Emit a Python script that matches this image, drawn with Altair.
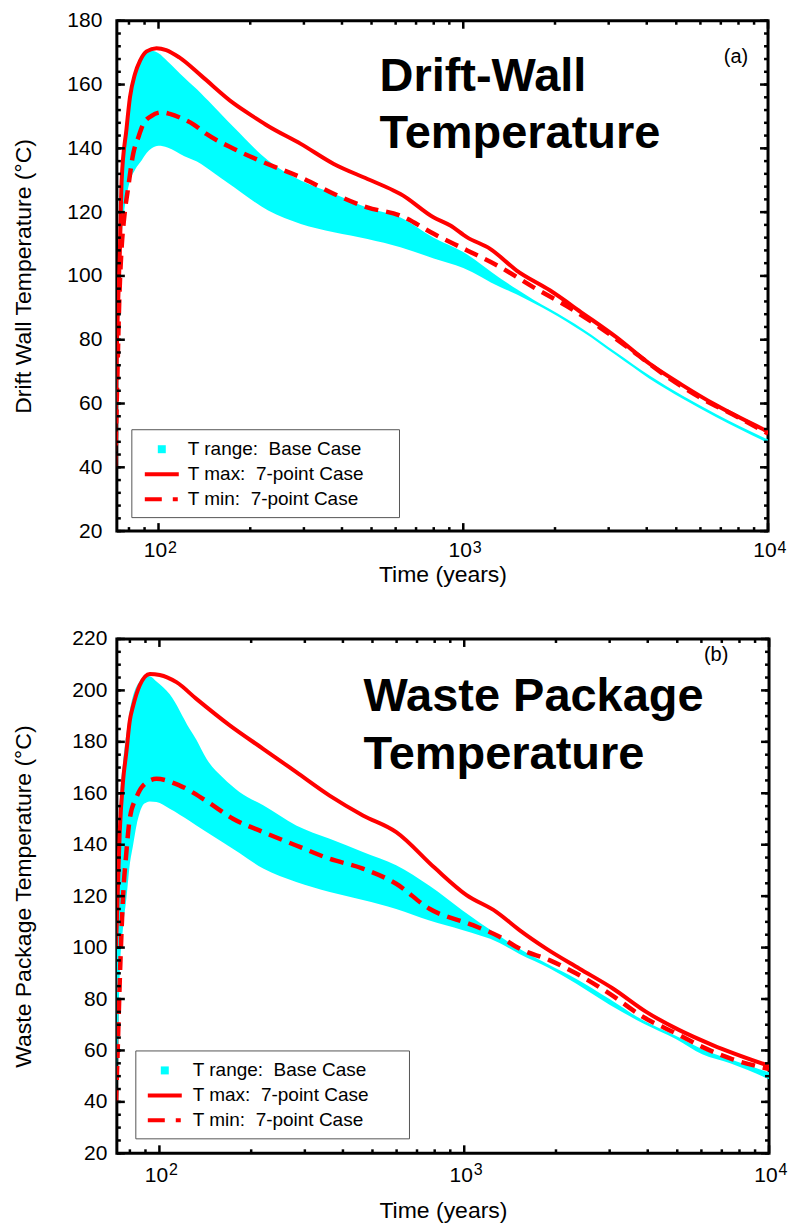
import altair as alt
import pandas as pd

FONT = "Liberation Sans"
CYAN = "#00ffff"
RED = "#ff0000"

# ---------------- Panel (a): Drift-Wall temperature ----------------
A_BAND_T = [72, 73, 74.5, 75.7, 77.1, 79.6, 84, 88, 91.4, 95, 100, 107, 121.6, 138, 145.7,
            177, 229, 293, 376, 485, 622, 800, 1000, 1321, 1500, 1700, 1923, 2472, 3177,
            4083, 5248, 6745, 10000]
A_BAND_HI = [45, 76, 104, 129, 139, 152, 163.5, 168, 170, 170.6, 169.8, 167.3, 162.1, 157.2, 154.9,
             146.5, 136.2, 129.9, 125.8, 121.4, 118.3, 112, 107.5, 99.3, 95.8, 92.5, 89.6, 83.3, 76.0,
             68.8, 62.4, 56.7, 48.7]
A_BAND_LO = [40, 60, 95, 112, 120, 127.8, 133.5, 136.2, 138.5, 140, 140.8, 140.3, 137.5, 135.1, 133.5,
             127.8, 120.5, 116.3, 113.7, 111.6, 109.0, 105.5, 102.5, 96.5, 94.2, 91.5, 88.8, 82.4, 75.1,
             67.8, 61.5, 55.8, 47.6]

A_MAX_T = [72, 73, 74.7, 75.7, 78.5, 80.6, 83.7, 87, 91.4, 98.5, 106, 117, 138, 177, 209, 228, 293,
           376, 485, 590, 622, 798, 907, 1030, 1225, 1497, 1923, 2472, 3177, 4083, 5248, 6745, 10000]
A_MAX_V = [45, 77, 108, 130, 146, 156, 163.3, 167.5, 170.4, 171.4, 170.8, 168.5, 162.8, 154.0, 149.4,
           147.1, 141.4, 135.1, 130.4, 126.8, 125.7, 118.4, 115.8, 112.1, 108.5, 101.7, 95.5, 88.2,
           80.8, 72.5, 65.7, 59.5, 51.2]

A_MIN_T = [72, 73, 74.5, 75.7, 77.1, 79.6, 82.6, 85.9, 89.1, 94.9, 102.3, 108.9, 120.4, 129.8, 143.6,
           177, 228, 293, 377, 484, 622, 800, 1030, 1321, 1696, 2178, 2803, 3600, 4627, 5947, 7643, 10000]
A_MIN_V = [40, 62, 95, 109, 118, 128, 138.3, 143.5, 147.6, 150.2, 151.3, 150.8, 149.2, 147.6, 144.5,
           139.8, 135.1, 130.9, 125.7, 121.5, 118.9, 113.2, 108.0, 102.8, 96.5, 90.6, 83.9, 76.4, 68.6,
           62.0, 56.6, 50.6]

# ---------------- Panel (b): Waste Package temperature ----------------
B_BAND_T = [72, 72.5, 74.1, 76, 77.9, 79.9, 82, 84.1, 86.2, 88.4, 90.6, 93, 97.8, 108.1, 125.7, 132.2,
            142.7, 161.7, 183, 219, 281, 362, 465, 598, 769, 985, 1306, 1518, 1903, 2333, 2997, 3853,
            4960, 6036, 7455, 10000]
B_BAND_HI = [100, 115, 155, 172, 183, 192, 198, 201.5, 203.5, 204.8, 205.7, 205.5, 203.5, 198.5, 185,
             180.8, 173.4, 166, 160.5, 155.3, 147.5, 142.3, 137.2, 132.0, 124, 114.5, 104.5, 99.5, 93.2,
             87.8, 80.0, 71.8, 65.6, 60.5, 56.6, 51.5]
B_BAND_LO = [40, 50, 90, 108, 119, 132, 140, 147.5, 152.5, 155.5, 156.4, 156.8, 156.6, 154.0, 149.2,
             147.5, 144.9, 140.9, 136.8, 130.7, 125.5, 121.6, 118.5, 115.0, 110.5, 106.8, 101.8, 97.5,
             92.0, 85.9, 77.8, 70.6, 64.4, 58.5, 55.0, 48.8]

B_MAX_T = [72, 72.5, 74.1, 76, 77.9, 79.9, 82, 86.2, 93, 100.2, 113.7, 132.2, 170.1, 218.8, 281.3,
           361.6, 465.2, 598.4, 800, 1015, 1274, 1518, 1858, 2389, 3073, 3954, 5079, 6530, 10000]
B_MAX_V = [100, 110, 145, 165, 176, 188, 194, 202, 206.4, 206.0, 203.2, 196.7, 186.4, 177.3, 168.2,
           159.1, 151.4, 144.9, 131.0, 120.5, 113.9, 106.8, 99.6, 91.8, 84.1, 75.0, 67.9, 62.1, 54.0]

B_MIN_T = [72, 72.5, 74.5, 76, 77.9, 79.9, 84.1, 88.4, 97.8, 116.6, 142.7, 174.3, 219, 281, 362, 465,
           598, 769, 1068, 1306, 1518, 1903, 2333, 2997, 3853, 4960, 6036, 7455, 10000]
B_MIN_V = [40, 50, 95, 120, 137, 150, 158.5, 163, 165.6, 163, 157, 150.1, 144.9, 139.7, 134.5, 130.7,
           124.8, 115.1, 108.7, 104.2, 99.6, 95.1, 89.9, 82.1, 73.1, 66.6, 61.4, 56.9, 52.8]

# ---------------- Shared text / ticks ----------------
LEGEND_LABELS = ["T range:\u00a0 Base Case", "T max:\u00a0 7-point Case", "T min:\u00a0 7-point Case"]
LEGEND_COLORS = [CYAN, RED, RED]
LEGEND_SHAPES = [
    "M-0.333,-0.333H0.333V0.333H-0.333Z",
    "M-1.417,-0.167H1.417V0.167H-1.417Z",
    "M-1.417,-0.167H0V0.167H-1.417Z M0.917,-0.167H1.333V0.167H0.917Z",
]
X_MAJOR = [100, 1000, 10000]
X_BASE_TEXT = "10"
X_EXPONENTS = ["2", "3", "4"]
X_MINOR = [80, 90, 200, 300, 400, 500, 600, 700, 800, 900,
           2000, 3000, 4000, 5000, 6000, 7000, 8000, 9000]
A_Y_MAJOR = list(range(20, 181, 20))
A_Y_MINOR = list(range(20, 181, 4))
B_Y_MAJOR = list(range(20, 221, 20))
B_Y_MINOR = list(range(20, 221, 5))


def panel(W, H, x0, ydom, band, mx, mn, ymaj, ymin, ytitle, ylab_pad, ytitle_pad,
          xlab_pad, xtitle_pad, exp_y, title_lines, title_x, title_y, title_lh, tag, tag_x, tag_y,
          leg_x, leg_y, sym_off, lab_off, nbsp):
    xs = alt.Scale(type="log", domain=[x0, 10000], nice=False)
    ys = alt.Scale(domain=ydom, nice=False, zero=False)

    xaxis = alt.Axis(values=X_MAJOR, labelExpr=f"'{X_BASE_TEXT}'", title="Time (years)",
                     labelFontSize=21, titleFontSize=23, labelPadding=xlab_pad, labelOffset=-3.5,
                     titlePadding=xtitle_pad, labelFlush=False, labelOverlap=False)
    yaxis = alt.Axis(values=ymaj, title=ytitle, labelFontSize=21, titleFontSize=23,
                     labelPadding=ylab_pad, titlePadding=ytitle_pad)

    bdf = pd.DataFrame({"t": band[0], "lo": band[1], "hi": band[2]})
    area = alt.Chart(bdf).mark_area(color=CYAN, clip=True, interpolate="monotone").encode(
        x=alt.X("t:Q", scale=xs, axis=xaxis),
        y=alt.Y("lo:Q", scale=ys, axis=yaxis),
        y2="hi:Q",
    )
    mxdf = pd.DataFrame({"t": mx[0], "v": mx[1]})
    mndf = pd.DataFrame({"t": mn[0], "v": mn[1]})
    lmax = alt.Chart(mxdf).mark_line(color=RED, strokeWidth=4, clip=True,
                                     interpolate="monotone").encode(
        x=alt.X("t:Q", scale=xs), y=alt.Y("v:Q", scale=ys))
    lmin = alt.Chart(mndf).mark_line(color=RED, strokeWidth=4.5, strokeDash=[14, 8], clip=True,
                                     interpolate="monotone").encode(
        x=alt.X("t:Q", scale=xs), y=alt.Y("v:Q", scale=ys))

    # exponents of the decade labels (10^2, 10^3, 10^4)
    edf = pd.DataFrame({"t": X_MAJOR, "e": X_EXPONENTS})
    expo = alt.Chart(edf).mark_text(font=FONT, fontSize=16, align="center", baseline="middle",
                                    dx=14, color="black").encode(
        x=alt.X("t:Q", scale=xs), y=alt.value(exp_y), text="e:N")

    # inward ticks on all four sides
    xmaj = pd.DataFrame({"t": X_MAJOR})
    xmin = pd.DataFrame({"t": X_MINOR})
    ymj = pd.DataFrame({"v": ymaj})
    ymn = pd.DataFrame({"v": ymin})
    tick_layers = []
    for df, ln in ((xmaj, 8), (xmin, 4)):
        tick_layers.append(alt.Chart(df).mark_rule(color="black", strokeWidth=2.5).encode(
            x=alt.X("t:Q", scale=xs), y=alt.value(H), y2=alt.value(H - ln)))
        tick_layers.append(alt.Chart(df).mark_rule(color="black", strokeWidth=2.5).encode(
            x=alt.X("t:Q", scale=xs), y=alt.value(0), y2=alt.value(ln)))
    for df, ln in ((ymj, 8), (ymn, 4)):
        tick_layers.append(alt.Chart(df).mark_rule(color="black", strokeWidth=2.5).encode(
            y=alt.Y("v:Q", scale=ys), x=alt.value(0), x2=alt.value(ln)))
        tick_layers.append(alt.Chart(df).mark_rule(color="black", strokeWidth=2.5).encode(
            y=alt.Y("v:Q", scale=ys), x=alt.value(W), x2=alt.value(W - ln)))

    tdf = pd.DataFrame({"txt": ["\n".join(title_lines)]})
    title = alt.Chart(tdf).mark_text(font=FONT, fontSize=47, fontWeight="bold", align="left",
                                     baseline="alphabetic", lineBreak="\n", lineHeight=title_lh,
                                     color="black").encode(
        text="txt:N", x=alt.value(title_x), y=alt.value(title_y))
    tagdf = pd.DataFrame({"txt": [tag]})
    tagm = alt.Chart(tagdf).mark_text(font=FONT, fontSize=20, align="center", baseline="middle",
                                      color="black").encode(
        text="txt:N", x=alt.value(tag_x), y=alt.value(tag_y))

    leg = alt.Legend(title=None, orient="none", legendX=leg_x, legendY=leg_y, direction="vertical",
                     strokeColor="#555555", fillColor="white", padding=8, symbolSize=576,
                     symbolOffset=sym_off, labelOffset=lab_off, labelFont=FONT, labelFontSize=19,
                     labelColor="black", symbolOpacity=1, symbolStrokeWidth=0, rowPadding=3,
                     labelLimit=400,
                     labelExpr="datum.label + '" + "\u00a0" * nbsp + "\u200b'")
    ldf = pd.DataFrame({"series": LEGEND_LABELS})
    legend_layer = alt.Chart(ldf).mark_point(filled=True, opacity=0, size=576).encode(
        color=alt.Color("series:N", scale=alt.Scale(domain=LEGEND_LABELS, range=LEGEND_COLORS),
                        legend=leg),
        shape=alt.Shape("series:N", scale=alt.Scale(domain=LEGEND_LABELS, range=LEGEND_SHAPES),
                        legend=leg),
    )

    return alt.layer(area, lmax, lmin, *tick_layers, expo, title, tagm, legend_layer).properties(
        width=W, height=H)


pa = panel(652, 511, 73, [20, 180], (A_BAND_T, A_BAND_LO, A_BAND_HI), (A_MAX_T, A_MAX_V),
           (A_MIN_T, A_MIN_V), A_Y_MAJOR, A_Y_MINOR, "Drift Wall Temperature (\u00b0C)", 15, 31.5,
           8, 3, 528, ["Drift-Wall", "Temperature"], 263, 70, 57, "(a)", 620, 36,
           14.5, 409, 10.5, 14, 5)
pb = panel(653, 515, 72.5, [20, 220], (B_BAND_T, B_BAND_LO, B_BAND_HI), (B_MAX_T, B_MAX_V),
           (B_MIN_T, B_MIN_V), B_Y_MAJOR, B_Y_MINOR, "Waste Package Temperature (\u00b0C)", 10, 36.5,
           11, 14, 532, ["Waste Package", "Temperature"], 247, 72, 58, "(b)", 600, 16,
           18.5, 412, 9.5, 16, 6)

chart = alt.concat(pa, pb, columns=1, spacing=38).resolve_scale(
    color="independent", shape="independent", x="independent", y="independent"
).resolve_legend(color="independent", shape="independent").properties(
    padding={"left": 10, "top": 7, "right": 0, "bottom": 0}, background="white"
).configure_view(stroke="black", strokeWidth=3).configure_axis(
    grid=False, domain=False, ticks=False, labelFont=FONT, titleFont=FONT, labelColor="black",
    titleColor="black", titleFontWeight="normal"
)

chart.save("out.html", embed_options={"renderer": "svg", "actions": False})
